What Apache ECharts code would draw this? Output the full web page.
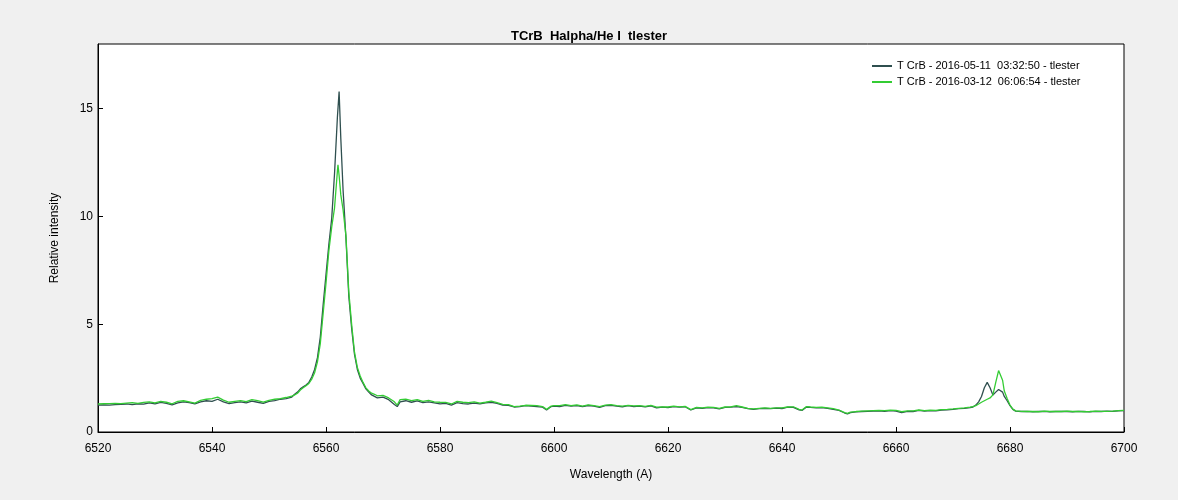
<!DOCTYPE html>
<html><head><meta charset="utf-8">
<script src="https://cdn.jsdelivr.net/npm/echarts@6/dist/echarts.min.js"></script>
<style>html,body{margin:0;padding:0;background:#f0f0f0}#c{width:1178px;height:500px}</style>
</head><body><div id="c"></div>
<script>
const titleText = "TCrB  Halpha/He I  tlester";
const seriesNames = ["T CrB - 2016-05-11  03:32:50 - tlester", "T CrB - 2016-03-12  06:06:54 - tlester"];
const xTicks = [6520, 6540, 6560, 6580, 6600, 6620, 6640, 6660, 6680, 6700];
const yTicks = [0, 5, 10, 15];

const wavelength = [
6520,6521,6522,6523,6524,6525,6526,6527,6528,6529,6530,6531,6532,6533,6534,6535,6536,6537,6538,6539,
6540,6541,6542,6543,6544,6545,6546,6547,6548,6549,6550,6551,6552,6553,6554,
6554.5,6555,6555.5,6556,6556.5,6557,6557.5,6558,6558.5,6559,6559.5,6560,6560.5,6561,6561.5,
6562,6562.1,6562.3,6562.6,6563,6563.5,6564,6564.5,6565,6565.5,6566,6566.5,6567,6567.5,6568,6568.5,6569,
6570,6571,6572,6572.5,6573,6574,6575,6576,6577,6578,6579,6580,6581,6582,6583,6584,6585,6586,6587,6588,6589,
6590,6591,6592,6593,6594,6595,6596,6597,6598,6598.7,6599.5,6600,6601,6602,6603,6604,6605,6606,6607,6608,6609,
6610,6611,6612,6613,6614,6615,6616,6617,6618,6619,6620,6621,6622,6623,6624,6625,6626,6627,6628,6629,
6630,6631,6632,6633,6634,6635,6636,6637,6638,6639,6640,6641,6642,6643,6643.5,6644.3,6645,6646,6647,6648,6649,
6650,6651,6651.5,6652,6653,6654,6655,6656,6657,6658,6659,6660,6661,6662,6663,6664,6665,6666,6667,6668,6669,
6670,6671,6672,6673,6673.5,6674,6674.5,6675,6675.5,6676,6676.5,6677,6677.5,6678,6678.3,6678.7,6679,6679.5,6680,6680.5,6681,
6682,6683,6684,6685,6686,6687,6688,6689,6690,6691,6692,6693,6694,6695,6696,6697,6698,6699,6700
];

const intensityMay = [
1.25,1.26,1.25,1.27,1.28,1.30,1.27,1.31,1.29,1.35,1.30,1.37,1.33,1.26,1.35,1.40,1.36,1.30,1.40,1.45,
1.42,1.52,1.40,1.32,1.36,1.40,1.35,1.43,1.38,1.33,1.42,1.46,1.52,1.55,1.62,
1.75,1.85,2.00,2.10,2.18,2.30,2.55,2.90,3.45,4.40,5.90,7.30,8.70,9.90,12.00,
14.60,15.00,15.80,13.60,11.20,9.00,6.30,4.80,3.60,2.90,2.50,2.25,2.00,1.85,1.72,1.65,1.58,
1.62,1.50,1.28,1.18,1.40,1.45,1.38,1.44,1.36,1.40,1.35,1.30,1.33,1.25,1.36,1.32,1.30,1.34,1.30,1.35,1.38,
1.33,1.25,1.24,1.16,1.18,1.22,1.20,1.18,1.15,1.02,1.18,1.20,1.18,1.24,1.20,1.22,1.18,1.23,1.20,1.14,1.22,
1.24,1.20,1.17,1.22,1.18,1.20,1.17,1.21,1.12,1.15,1.13,1.18,1.15,1.17,1.02,1.12,1.10,1.13,1.12,1.07,
1.14,1.15,1.18,1.14,1.08,1.05,1.08,1.10,1.08,1.11,1.09,1.15,1.14,1.03,1.00,1.16,1.14,1.12,1.13,1.10,1.05,
1.00,0.88,0.84,0.90,0.93,0.95,0.96,0.97,0.98,0.96,0.99,0.97,0.90,0.96,0.95,1.00,0.97,0.99,0.98,1.02,1.03,
1.05,1.08,1.10,1.13,1.16,1.25,1.40,1.65,2.05,2.30,2.05,1.72,1.85,1.97,2.00,1.85,1.65,1.45,1.22,1.05,0.97,
0.95,0.96,0.94,0.95,0.96,0.94,0.95,0.96,0.95,0.94,0.96,0.95,0.93,0.96,0.95,0.97,0.96,0.98,0.99
];

const intensityMar = [
1.30,1.31,1.32,1.33,1.32,1.34,1.36,1.33,1.37,1.40,1.35,1.42,1.38,1.31,1.42,1.45,1.40,1.34,1.47,1.52,
1.55,1.62,1.48,1.38,1.42,1.46,1.41,1.50,1.46,1.39,1.47,1.52,1.55,1.60,1.66,
1.72,1.80,1.95,2.05,2.15,2.25,2.45,2.75,3.25,4.10,5.50,6.90,8.40,9.50,10.40,
12.10,12.40,11.90,11.00,10.30,9.10,6.50,5.00,3.70,3.00,2.60,2.30,2.05,1.90,1.80,1.75,1.68,
1.70,1.58,1.40,1.25,1.50,1.52,1.46,1.50,1.42,1.47,1.40,1.38,1.37,1.30,1.42,1.38,1.36,1.40,1.34,1.38,1.43,
1.36,1.28,1.27,1.18,1.20,1.24,1.23,1.22,1.18,1.05,1.20,1.22,1.22,1.27,1.22,1.26,1.20,1.26,1.22,1.18,1.25,
1.27,1.22,1.20,1.24,1.21,1.22,1.19,1.24,1.15,1.17,1.16,1.20,1.17,1.19,1.04,1.14,1.12,1.15,1.14,1.10,
1.16,1.17,1.22,1.16,1.10,1.07,1.10,1.12,1.10,1.12,1.12,1.16,1.17,1.05,1.02,1.18,1.16,1.14,1.15,1.12,1.08,
1.02,0.90,0.86,0.92,0.95,0.97,0.98,0.99,1.00,0.99,1.01,1.00,0.94,0.98,0.98,1.02,0.99,1.01,1.00,1.04,1.05,
1.07,1.10,1.12,1.15,1.18,1.22,1.30,1.38,1.45,1.52,1.58,1.72,2.30,2.85,2.88,2.40,1.90,1.55,1.25,1.06,0.98,
0.96,0.95,0.95,0.94,0.97,0.95,0.96,0.95,0.97,0.95,0.96,0.94,0.95,0.97,0.96,0.96,0.97,0.99,1.00
];

const colors = ["#2f4f4f", "#33cc33"];
const font = "Liberation Sans, Arial, sans-serif";

const chart = echarts.init(document.getElementById('c'), null, {renderer: 'canvas'});
chart.setOption({
  backgroundColor: '#f0f0f0',
  animation: false,
  title: {
    text: titleText, left: 'center', top: 25,
    textStyle: {fontFamily: font, fontSize: 13, fontWeight: 'bold', color: '#000'}
  },
  legend: {
    orient: 'vertical', left: 872, top: 60, padding: 0, itemWidth: 20, itemHeight: 2, itemGap: 4,
    icon: 'rect',
    data: seriesNames,
    textStyle: {fontFamily: font, fontSize: 11, color: '#000', lineHeight: 12}
  },
  grid: {left: 98, right: 54, top: 44, bottom: 68, show: true, backgroundColor: '#fff', borderColor: '#000', borderWidth: 1},
  xAxis: {
    type: 'value', min: xTicks[0], max: xTicks[xTicks.length - 1], interval: 20,
    name: 'Wavelength (A)', nameLocation: 'middle', nameGap: 37,
    nameTextStyle: {fontFamily: font, fontSize: 12, color: '#000'},
    axisLine: {show: true, lineStyle: {color: '#000'}},
    axisTick: {show: true, inside: true, length: 5, lineStyle: {color: '#000'}},
    axisLabel: {fontFamily: font, fontSize: 12, color: '#000', margin: 11, formatter: v => String(v)},
    splitLine: {show: false}
  },
  yAxis: {
    type: 'value', min: 0, max: 18, interval: 5,
    name: 'Relative intensity', nameLocation: 'middle', nameGap: 37, nameRotate: 90,
    nameTextStyle: {fontFamily: font, fontSize: 12, color: '#000'},
    axisLine: {show: true, lineStyle: {color: '#000'}},
    axisTick: {show: true, inside: true, length: 5, lineStyle: {color: '#000'}},
    axisLabel: {fontFamily: font, fontSize: 12, color: '#000', margin: 5, showMaxLabel: false, formatter: v => String(v)},
    splitLine: {show: false}
  },
  series: [
    {name: seriesNames[0], type: 'line', showSymbol: false, symbol: 'none', color: colors[0],
     lineStyle: {width: 1.3, color: colors[0]},
     data: wavelength.map((w, i) => [w, intensityMay[i]])},
    {name: seriesNames[1], type: 'line', showSymbol: false, symbol: 'none', color: colors[1],
     lineStyle: {width: 1.3, color: colors[1]},
     data: wavelength.map((w, i) => [w, intensityMar[i]])}
  ]
});
</script></body></html>
